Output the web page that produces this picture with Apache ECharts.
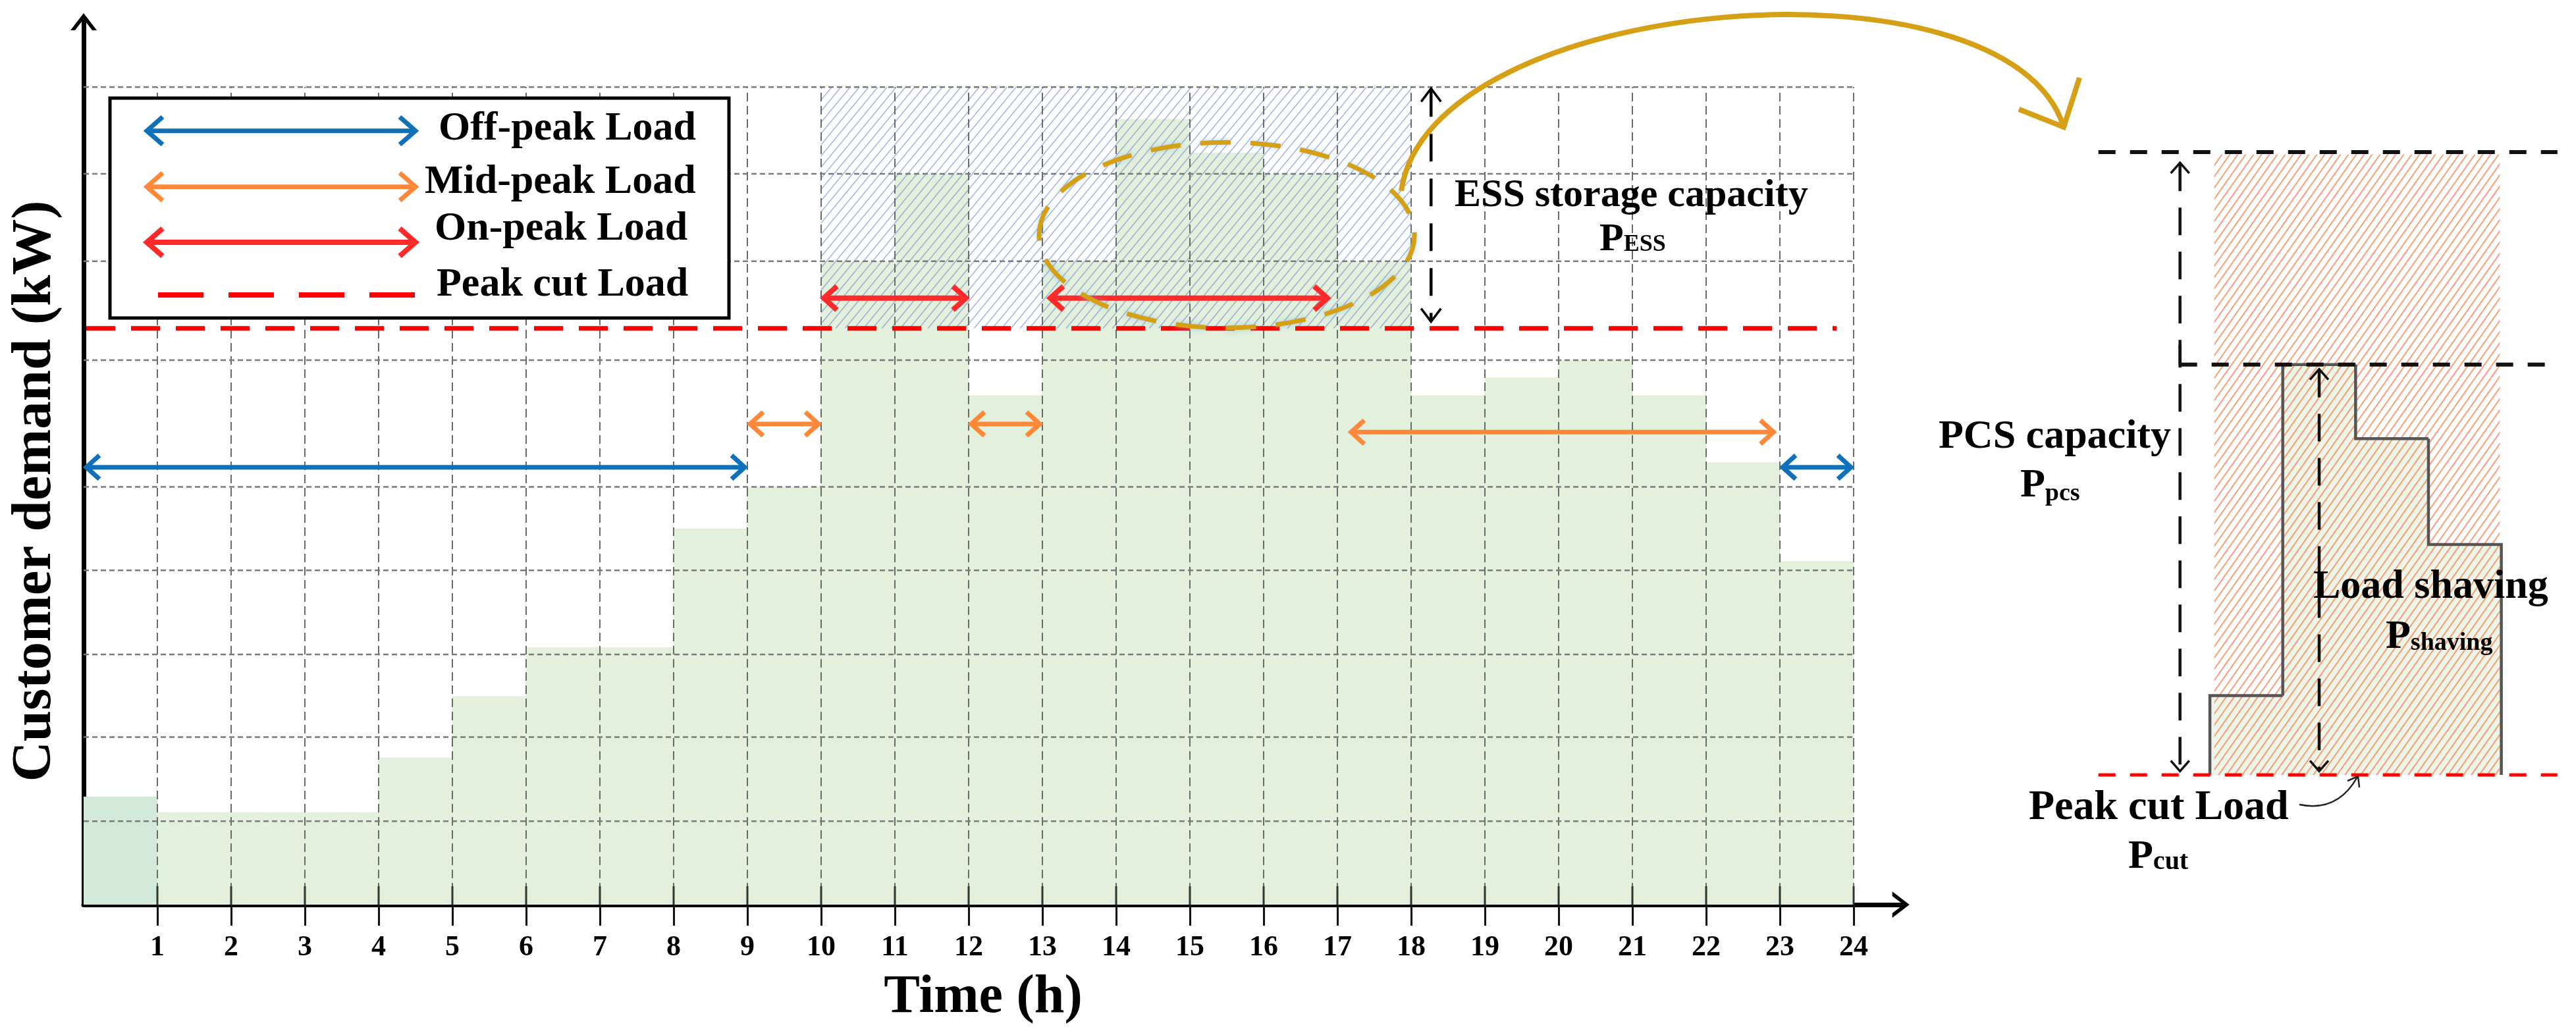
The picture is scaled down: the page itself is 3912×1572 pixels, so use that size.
<!DOCTYPE html>
<html>
<head>
<meta charset="utf-8">
<script src="https://cdn.jsdelivr.net/npm/echarts@6/dist/echarts.min.js"></script>
<style>html,body{margin:0;padding:0;background:#fff;}#c{width:3912px;height:1572px;}</style>
</head>
<body>
<div id="c"></div>
<script>
// ---------------- data ----------------
const hours = [0,1,2,3,4,5,6,7,8,9,10,11,12,13,14,15,16,17,18,19,20,21,22,23];
const demand = [1.32,1.13,1.13,1.13,1.80,2.55,3.15,3.15,4.60,5.11,7.87,8.94,6.23,7.87,9.61,9.20,8.94,7.87,6.23,6.45,6.66,6.23,5.41,4.20];
const xTicks = [1,2,3,4,5,6,7,8,9,10,11,12,13,14,15,16,17,18,19,20,21,22,23,24];
const gridLevels = [1.02,2.05,3.06,4.09,5.11,6.66,7.87,8.94,10];
const peakCut = 7.05;
const essTop = 10;
const essSpan = [10, 18];
const offPeak = [[0,9,5.35],[23,24,5.35]];
const midPeak = [[9,10,5.88],[12,13,5.88],[17.15,22.95,5.78]];
const onPeak = [[10,12,7.42],[13.07,16.9,7.42]];
// right-hand zoomed schematic
const shavingSteps = [1.02,5.27,4.32,2.96];
const pcsCapacity = 5.27;
const essCapacity = 8.0;

// ---------------- helpers ----------------
const FONT = '"Liberation Serif", "DejaVu Serif", serif';
const CHEV = 'path://M0,26L20,0L40,26L33,26L20,9L7,26Z';
const X_MAX = 24.64, Y_MAX = 10.8;
const BLUE = '#1070b8', ORANGE = '#ff8838', RED = '#ff2a2a', GOLD = '#d59f16';

function hatch(color, w, h, lw) {
  const c = document.createElement('canvas');
  c.width = w; c.height = h;
  const g = c.getContext('2d');
  g.strokeStyle = color; g.lineWidth = lw;
  g.beginPath();
  for (const dx of [-w, 0, w]) { g.moveTo(dx - w, 2 * h); g.lineTo(dx + 2 * w, -h); }
  g.stroke();
  return {image: c, repeat: 'repeat'};
}
const blueHatch = hatch('rgba(110,130,205,0.6)', 14, 17, 1.5);
const orangeHatch = hatch('rgba(250,140,95,0.85)', 12, 17, 2);

function seg(x1, y1, x2, y2, stroke, lw, dash) {
  return {type: 'line', shape: {x1, y1, x2, y2}, style: {stroke, lineWidth: lw, lineDash: dash || null, fill: 'none'}};
}
function chev(pts, stroke, lw) {
  return {type: 'polyline', shape: {points: pts}, style: {stroke, lineWidth: lw, fill: 'none', lineJoin: 'miter', lineCap: 'butt'}};
}
function hArrow(x1, x2, y, color, lw, len, half) {
  return [
    seg(x1 + 3, y, x2 - 3, y, color, lw),
    chev([[x1 + len + 4, y - half], [x1 + 4, y], [x1 + len + 4, y + half]], color, lw),
    chev([[x2 - len - 4, y - half], [x2 - 4, y], [x2 - len - 4, y + half]], color, lw)
  ];
}
function vArrow(x, yTop, yBot, color, lw, len, half, dash) {
  return [
    seg(x, yTop + 3, x, yBot - 3, color, lw, dash),
    chev([[x - half, yTop + len + 2], [x, yTop + 2], [x + half, yTop + len + 2]], color, 3.5),
    chev([[x - half, yBot - len - 2], [x, yBot - 2], [x + half, yBot - len - 2]], color, 3.5)
  ];
}
function withZ(list, z) { return list.map(e => Object.assign(e, {z})); }

const mainAx = {type: 'custom', coordinateSystem: 'cartesian2d', xAxisIndex: 0, yAxisIndex: 0, clip: false, silent: true};
const sideAx = {type: 'custom', coordinateSystem: 'cartesian2d', xAxisIndex: 1, yAxisIndex: 1, clip: false, silent: true};

function arrowSeries(name, arr, color, lw) {
  return Object.assign({}, mainAx, {
    name, z: 8, data: arr,
    renderItem(params, api) {
      const a = api.coord([api.value(0), api.value(2)]);
      const b = api.coord([api.value(1), api.value(2)]);
      return {type: 'group', children: hArrow(a[0], b[0], a[1], color, lw, 20, 18)};
    }
  });
}

const series = [
  // demand bars
  Object.assign({}, mainAx, {
    name: 'demand', z: 2,
    data: demand.map((v, i) => [hours[i], v]),
    renderItem(params, api) {
      const h = api.value(0), v = api.value(1);
      const p0 = api.coord([h, 0]), p1 = api.coord([h + 1, v]);
      return {type: 'rect', shape: {x: p0[0], y: p1[1], width: p1[0] - p0[0], height: p0[1] - p1[1]},
        style: {fill: h === 0 ? '#d4ead8' : '#e2f0dc'}};
    }
  }),
  // ESS hatched zone
  Object.assign({}, mainAx, {
    name: 'essZone', z: 3,
    data: [[essSpan[0], peakCut, essSpan[1], essTop]],
    renderItem(params, api) {
      const p0 = api.coord([api.value(0), api.value(1)]), p1 = api.coord([api.value(2), api.value(3)]);
      return {type: 'rect', shape: {x: p0[0], y: p1[1], width: p1[0] - p0[0], height: p0[1] - p1[1]},
        style: {fill: blueHatch}};
    }
  }),
  // vertical grid lines
  Object.assign({}, mainAx, {
    name: 'vgrid', z: 4,
    data: xTicks.map(h => [h, gridLevels[gridLevels.length - 1]]),
    renderItem(params, api) {
      const p0 = api.coord([api.value(0), 0]), p1 = api.coord([api.value(0), api.value(1)]);
      return {type: 'group', children: [
        seg(p0[0], p0[1], p1[0], p1[1], '#6a6a6a', 2, [13, 7]),
        seg(p0[0], p0[1], p0[0], p0[1] - 28, '#333', 3)
      ]};
    }
  }),
  // horizontal grid lines
  Object.assign({}, mainAx, {
    name: 'hgrid', z: 4,
    data: gridLevels.map(v => [0, v]),
    renderItem(params, api) {
      const p0 = api.coord([0, api.value(1)]), p1 = api.coord([xTicks[xTicks.length - 1], api.value(1)]);
      return seg(p0[0], p0[1], p1[0], p1[1], '#7a7a7a', 2.5, [8, 5]);
    }
  }),
  // peak cut line
  Object.assign({}, mainAx, {
    name: 'peakCut', z: 6,
    data: [[0, peakCut]],
    renderItem(params, api) {
      const p0 = api.coord([0, api.value(1)]), p1 = api.coord([23.77, api.value(1)]);
      return seg(p0[0] + 4, p0[1], p1[0], p1[1], '#ff0000', 7, [44, 24]);
    }
  }),
  arrowSeries('Off-peak Load', offPeak, BLUE, 7),
  arrowSeries('Mid-peak Load', midPeak, ORANGE, 7),
  arrowSeries('On-peak Load', onPeak, RED, 8),
  // annotations: ellipse and ESS storage arrow
  Object.assign({}, mainAx, {
    name: 'annot', z: 9,
    data: [[peakCut, essTop]],
    renderItem(params, api) {
      const c = api.coord([15.5, 8.19]);
      const rx = api.size([2.545, 0])[0], ry = api.size([0, 1.135])[1];
      const a = api.coord([18.27, api.value(1)]), b = api.coord([18.27, api.value(0)]);
      return {type: 'group', children: [
        {type: 'ellipse', shape: {cx: c[0], cy: c[1], rx, ry},
          style: {fill: 'none', stroke: GOLD, lineWidth: 7, lineDash: [46, 30], shadowBlur: 8, shadowColor: 'rgba(120,190,230,0.6)'}},
      ].concat(vArrow(a[0], a[1], b[1] - 8, '#000', 4.5, 20, 15, [42, 26]))};
    }
  }),
  // ---- right panel ----
  Object.assign({}, sideAx, {
    name: 'shaveFill', z: 2,
    data: shavingSteps.map((v, i) => [i, v]),
    renderItem(params, api) {
      const i = api.value(0), v = api.value(1);
      const p0 = api.coord([i, 0]), p1 = api.coord([i + 1, v]);
      return {type: 'rect', shape: {x: p0[0], y: p1[1], width: p1[0] - p0[0], height: p0[1] - p1[1]}, style: {fill: '#edf5e8'}};
    }
  }),
  Object.assign({}, sideAx, {
    name: 'pcsHatch', z: 3,
    data: [[shavingSteps.length, essCapacity]],
    renderItem(params, api) {
      const p0 = api.coord([0.06, 0]), p1 = api.coord([api.value(0) - 0.02, api.value(1) - 0.03]);
      return {type: 'rect', shape: {x: p0[0], y: p1[1], width: p1[0] - p0[0], height: p0[1] - p1[1]}, style: {fill: orangeHatch}};
    }
  }),
  Object.assign({}, sideAx, {
    name: 'shaveOutline', z: 4,
    data: shavingSteps.map((v, i) => [i, v]),
    renderItem(params, api) {
      const idx = params.dataIndexInside;
      const i = api.value(0), v = api.value(1);
      const prev = idx === 0 ? 0 : api.value(1, idx - 1);
      const a = api.coord([i, prev]), b = api.coord([i, v]), c = api.coord([i + 1, v]);
      const pts = [a, b, c];
      if (idx === shavingSteps.length - 1) pts.push(api.coord([i + 1, 0]));
      return {type: 'polyline', shape: {points: pts}, style: {stroke: '#555', lineWidth: 4.5, fill: 'none', lineJoin: 'miter'}};
    }
  }),
  Object.assign({}, sideAx, {
    name: 'sideLines', z: 6,
    data: [[essCapacity, pcsCapacity]],
    renderItem(params, api) {
      const top = api.value(0), pcs = api.value(1);
      const t0 = api.coord([-1.53, top]), t1 = api.coord([4.77, top]);
      const q0 = api.coord([-0.41, pcs]), q1 = api.coord([4.77, pcs]);
      const c0 = api.coord([-1.53, 0]), c1 = api.coord([4.77, 0]);
      const v0 = api.coord([-0.41, 7.88]), v1 = api.coord([-0.41, 0.03]);
      const s0 = api.coord([1.5, pcs - 0.04]), s1 = api.coord([1.5, 0.03]);
      return {type: 'group', children: [
        seg(t0[0], t0[1], t1[0], t1[1], '#111', 6, [26, 22]),
        seg(q0[0], q0[1], q1[0], q1[1], '#111', 6, [26, 22]),
        seg(q0[0], q0[1] - 30, q0[0], q0[1], '#111', 4.5),
        seg(c0[0], c0[1], c1[0], c1[1], '#ff0000', 5, [26, 22])
      ].concat(vArrow(v0[0], v0[1], v1[1], '#111', 4.5, 16, 14, [42, 25]))
       .concat(vArrow(s0[0], s0[1], s1[1], '#111', 4.5, 16, 14, [42, 25]))};
    }
  })
];

// ---------------- graphic annotations (legend, titles, labels) ----------------
function txt(x, y, text, size, align) {
  return {type: 'text', x, y, z: 100,
    style: {text, font: 'bold ' + size + 'px ' + FONT, fill: '#000', align: align || 'left', verticalAlign: 'middle'}};
}
function sub(x, y, main, subText, size, subSize, pad) {
  return {type: 'text', x, y, z: 100, style: {
    text: '{p|' + main + '}{s|' + subText + '}', align: 'left', verticalAlign: 'middle',
    rich: {
      p: {font: 'bold ' + size + 'px ' + FONT, fill: '#000'},
      s: {font: 'bold ' + subSize + 'px ' + FONT, fill: '#000', verticalAlign: 'bottom', padding: [0, 0, pad || 0, 0]}
    }}};
}

const graphic = [
  // legend
  {type: 'rect', z: 90, shape: {x: 167, y: 149, width: 940, height: 334}, style: {fill: '#fff', stroke: '#000', lineWidth: 5}},
  ...withZ(hArrow(219, 635, 198.7, BLUE, 7, 24, 21), 95),
  ...withZ(hArrow(219, 635, 283.7, ORANGE, 7, 24, 21), 95),
  ...withZ(hArrow(219, 635, 368, RED, 8, 24, 21), 95),
  Object.assign(seg(240, 448, 632, 448, '#ff0000', 8, [69, 38]), {z: 95}),
  txt(666, 196, 'Off-peak Load', 62),
  txt(645, 277, 'Mid-peak Load', 62),
  txt(660, 348, 'On-peak Load', 62),
  txt(663, 433, 'Peak cut Load', 62),
  // axis titles
  {type: 'text', x: 54, y: 746, rotation: Math.PI / 2, z: 100,
    style: {text: 'Customer demand (kW)', font: 'bold 85px ' + FONT, fill: '#000', align: 'center', verticalAlign: 'middle'}},
  {type: 'text', x: 1493, y: 1516, z: 100,
    style: {text: 'Time (h)', font: 'bold 82px ' + FONT, fill: '#000', align: 'center', verticalAlign: 'middle'}},
  // ESS label
  txt(2209, 297, 'ESS storage capacity', 60),
  sub(2429, 364, 'P', 'ESS', 60, 36, 4),
  // golden curved arrow
  {type: 'bezierCurve', z: 100, shape: {x1: 2128, y1: 290, cpx1: 2170, cpy1: -10, cpx2: 3050, cpy2: -80, x2: 3134, y2: 193},
    style: {stroke: GOLD, lineWidth: 8, fill: 'none'}},
  {type: 'polyline', z: 100, shape: {points: [[3066, 166], [3134, 193], [3158, 118]]},
    style: {stroke: GOLD, lineWidth: 8, fill: 'none', lineJoin: 'miter'}},
  // right panel labels
  txt(3297, 664, 'PCS capacity', 62, 'right'),
  sub(3068, 738, 'P', 'pcs', 62, 38, 0),
  txt(3513, 892, 'Load shaving', 62),
  sub(3623, 968, 'P', 'shaving', 62, 38, 3),
  txt(3081, 1227, 'Peak cut Load', 64),
  sub(3232, 1302, 'P', 'cut', 62, 40, 3),
  {type: 'bezierCurve', z: 100, shape: {x1: 3492, y1: 1222, cpx1: 3540, cpy1: 1232, cpx2: 3566, cpy2: 1205, x2: 3580, y2: 1180},
    style: {stroke: '#222', lineWidth: 2.5, fill: 'none'}},
  {type: 'polyline', z: 100, shape: {points: [[3565, 1186], [3581, 1179], [3583, 1196]]},
    style: {stroke: '#222', lineWidth: 2.5, fill: 'none'}}
];

const option = {
  animation: false,
  backgroundColor: '#fff',
  grid: [
    {left: 127, right: 1025.3, top: 33, bottom: 198, containLabel: false, outerBoundsMode: 'none'},
    {left: 3134.7, right: 2.75, top: 207.35, bottom: 395, containLabel: false, outerBoundsMode: 'none'}
  ],
  xAxis: [
    {type: 'value', gridIndex: 0, min: 0, max: X_MAX, interval: 1,
      axisLine: {show: true, onZero: false, lineStyle: {color: '#000', width: 7}, symbol: ['none', CHEV], symbolSize: [40, 26]},
      axisTick: {show: true, customValues: xTicks, length: 32, lineStyle: {color: '#111', width: 3}},
      axisLabel: {show: true, customValues: xTicks, margin: 44, color: '#000', fontFamily: FONT, fontWeight: 'bold', fontSize: 44,
        formatter: v => (v >= 1 && v <= 24 && Math.abs(v - Math.round(v)) < 1e-6) ? String(Math.round(v)) : ''},
      splitLine: {show: false}},
    {type: 'value', gridIndex: 1, min: -2, max: 5, show: false}
  ],
  yAxis: [
    {type: 'value', gridIndex: 0, min: 0, max: Y_MAX,
      axisLine: {show: true, onZero: false, lineStyle: {color: '#000', width: 7}, symbol: ['none', CHEV], symbolSize: [40, 26]},
      axisTick: {show: false}, axisLabel: {show: false}, splitLine: {show: false}},
    {type: 'value', gridIndex: 1, min: 0, max: 8.2, show: false}
  ],
  series,
  graphic
};

const chart = echarts.init(document.getElementById('c'), null, {renderer: 'canvas', width: 3912, height: 1572});
chart.setOption(option);
</script>
</body>
</html>
